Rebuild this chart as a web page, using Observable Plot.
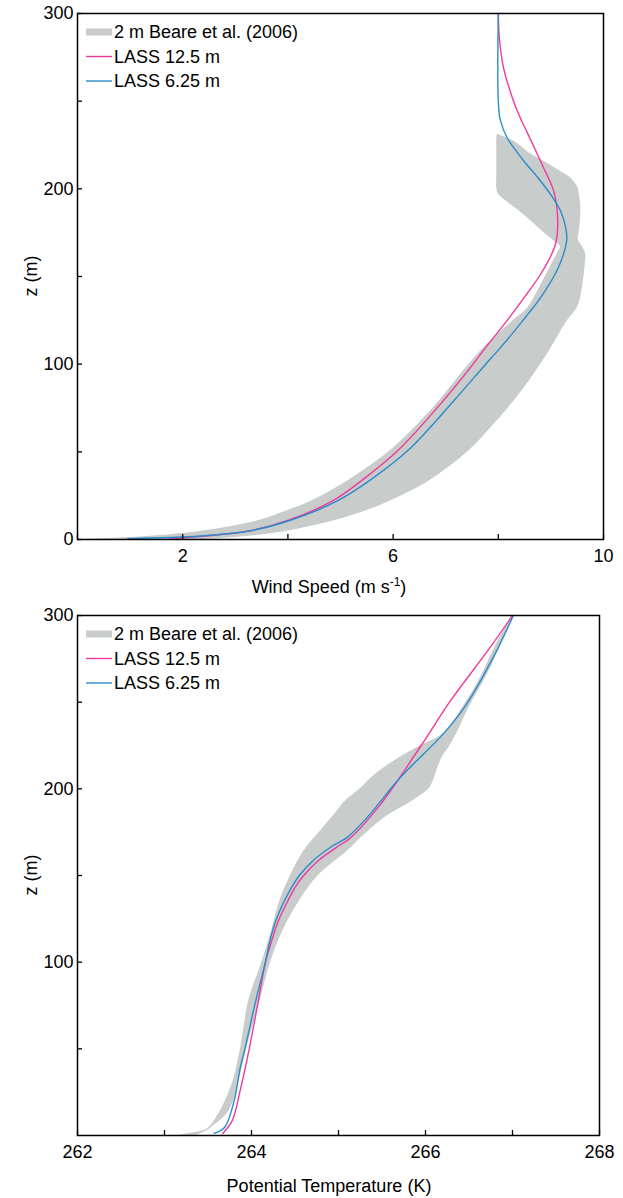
<!DOCTYPE html>
<html><head><meta charset="utf-8">
<script src="https://cdn.jsdelivr.net/npm/d3@7"></script>
<script src="https://cdn.jsdelivr.net/npm/@observablehq/plot@0.6"></script>
<style>
html,body{margin:0;padding:0;background:#fff;}
svg{display:block;}
</style></head><body><div id="chart"></div>
<script>
// ---------- Legend ----------
const legendLabels = ["2 m Beare et al. (2006)", "LASS 12.5 m", "LASS 6.25 m"];

// ---------- Panel 1: wind speed ----------
const windBandZ  = [0,1.1,3.4,6.3,10.8,16.5,22,33.7,50.8,65,79,93,108,125,132,140,148,156,163,167,171,176,182,188,193,197,201,206,210,216,220,225,228,231];
const windBandLo = [0,1.0,2.0,2.7,3.45,4.0,4.45,5.15,5.95,6.45,6.88,7.25,7.68,8.29,8.56,8.72,8.86,9.0,9.12,9.18,9.03,8.83,8.61,8.37,8.15,8.0,7.97,7.97,7.97,7.97,7.97,7.97,7.97,7.98];
const windBandHi = [2.4,3.0,3.7,4.25,4.9,5.5,5.95,6.7,7.45,7.9,8.3,8.65,8.98,9.32,9.5,9.58,9.62,9.65,9.66,9.6,9.52,9.54,9.56,9.57,9.56,9.54,9.51,9.38,9.18,8.85,8.61,8.4,8.25,7.99];
const windPinkZ = [0.5,2,5,11,22,34,51,79,100,108,125,138,152,167.7,182,199,212,231.5,239,250,269,286,300];
const windPinkU = [1.77,2.43,3.29,4.01,4.85,5.42,6.1,6.95,7.52,7.72,8.17,8.49,8.82,9.08,9.13,9.05,8.86,8.56,8.44,8.29,8.10,8.02,8.00];
const windBlueZ = [0.5,2,5,11,22,34,51,79,100,108,125,140,155,170.5,178,187.6,197,206.5,216,223.6,229,239,250,300];
const windBlueU = [0.95,2.34,3.29,4.05,4.94,5.57,6.29,7.15,7.76,8.0,8.47,8.85,9.14,9.30,9.28,9.18,8.99,8.75,8.48,8.29,8.17,8.04,8.00,8.00];
const windXTicks = [0,2,4,6,8,10];
const windXLabels = [2,6,10];
const windYTicks = [0,50,100,150,200,250,300];
const windYLabels = [0,100,200,300];

// ---------- Panel 2: potential temperature ----------
const tempBandZ  = [0,3,5,14,30,49,78,100,118,136,150,164,175,185,193,200,206,212,218,224,232,248,265,282,300];
const tempBandLo = [263.14,263.46,263.52,263.64,263.78,263.87,263.97,264.12,264.23,264.33,264.45,264.60,264.78,264.95,265.08,265.25,265.37,265.52,265.70,265.91,266.21,266.44,266.64,266.80,267.0];
const tempBandHi = [263.37,263.50,263.55,263.74,263.85,263.94,264.10,264.22,264.36,264.56,264.77,265.10,265.33,265.58,265.85,266.04,266.10,266.14,266.19,266.27,266.36,266.51,266.70,266.86,267.02];
const tempPinkZ = [1.2,8.7,26,49,78,100,112,124,135.6,143,150,158.7,167,171,191.5,225,251,280,300];
const tempPinkT = [263.67,263.78,263.87,263.97,264.08,264.16,264.23,264.31,264.42,264.50,264.60,264.77,265.00,265.12,265.49,265.95,266.29,266.72,267.0];
const tempBlueZ = [1.2,4.6,20,39,49,78,100,112,124,135.6,143,150,158.7,167,172,183.5,206.5,232,248,276,300];
const tempBlueT = [263.57,263.69,263.80,263.87,263.92,264.05,264.16,264.21,264.28,264.38,264.46,264.55,264.71,264.93,265.10,265.33,265.71,266.21,266.46,266.78,267.01];
const tempXTicks = [262,263,264,265,266,267,268];
const tempXLabels = [262,264,266,268];
const tempYTicks = [50,100,150,200,250,300];
const tempYLabels = [100,200,300];

const FONT = "'Liberation Sans', Arial, Helvetica, sans-serif";
const FS = 18;
const COLORS = {band: "#c8cccb", pink: "#f0399b", blue: "#2b8bcb"};

function zip(zs, a, b) { return zs.map((z, i) => b ? {z, lo: a[i], hi: b[i]} : {z, v: a[i]}); }

function panel(o) {
  const band = zip(o.bandZ, o.bandLo, o.bandHi);
  const pink = zip(o.pinkZ, o.pinkV);
  const blue = zip(o.blueZ, o.blueV);
  const svg = Plot.plot({
    width: 623, height: o.height,
    marginTop: o.mt, marginBottom: o.mb, marginLeft: 77, marginRight: o.mr,
    style: {fontFamily: FONT, fontSize: FS + "px", color: "#000", background: "#fff"},
    x: {domain: o.xDomain},
    y: {domain: [0, 300]},
    marks: [
      Plot.areaX(band, {y: "z", x1: "lo", x2: "hi", fill: COLORS.band, curve: "catmull-rom"}),
      Plot.line(pink, {x: "v", y: "z", stroke: COLORS.pink, strokeWidth: 1.4, curve: "catmull-rom"}),
      Plot.line(blue, {x: "v", y: "z", stroke: COLORS.blue, strokeWidth: 1.4, curve: "catmull-rom"}),
      Plot.frame({stroke: "#000", strokeWidth: 1.5}),
      Plot.axisX({ticks: o.xTicks, tickFormat: d => o.xLabels.includes(d) ? String(d) : "", tickSize: -5, tickPadding: 15, label: null, fontSize: FS, strokeWidth: 1.3}),
      Plot.axisY({ticks: o.yTicks, tickFormat: d => o.yLabels.includes(d) ? String(d) : "", tickSize: -5, tickPadding: 9, label: null, fontSize: FS, strokeWidth: 1.3})
    ]
  });
  const s = d3.select(svg);
  // y-axis label
  s.append("text").attr("transform", `translate(31,${o.mt + (o.height - o.mt - o.mb) / 2}) rotate(-90)`)
    .attr("text-anchor", "middle").attr("dominant-baseline", "central")
    .attr("font-family", FONT).attr("font-size", FS).text("z (m)");
  // x-axis label
  const xl = s.append("text").attr("x", 329).attr("y", o.xLabelY).attr("text-anchor", "middle")
    .attr("font-family", FONT).attr("font-size", FS);
  o.xLabel(xl);
  // legend
  const lg = s.append("g").attr("font-family", FONT).attr("font-size", FS).attr("text-anchor", "start");
  const rowY = [19, 43.5, 68].map(d => d + o.mt);
  lg.append("rect").attr("x", 86).attr("y", rowY[0] - 3.5).attr("width", 26).attr("height", 7).attr("fill", COLORS.band);
  lg.append("line").attr("x1", 86).attr("x2", 112).attr("y1", rowY[1]).attr("y2", rowY[1]).attr("stroke", COLORS.pink).attr("stroke-width", 1.4);
  lg.append("line").attr("x1", 86).attr("x2", 112).attr("y1", rowY[2]).attr("y2", rowY[2]).attr("stroke", COLORS.blue).attr("stroke-width", 1.4);
  legendLabels.forEach((t, i) => {
    lg.append("text").attr("x", 114).attr("y", rowY[i]).attr("dominant-baseline", "central").attr("text-anchor", "start").text(t);
  });
  return svg;
}

const root = document.getElementById("chart");
root.appendChild(panel({
  height: 600, mt: 13, mb: 61, mr: 20, xDomain: [0, 10],
  bandZ: windBandZ, bandLo: windBandLo, bandHi: windBandHi,
  pinkZ: windPinkZ, pinkV: windPinkU, blueZ: windBlueZ, blueV: windBlueU,
  xTicks: windXTicks, xLabels: windXLabels, yTicks: windYTicks, yLabels: windYLabels,
  xLabelY: 593,
  xLabel: t => { t.append("tspan").text("Wind Speed (m s"); t.append("tspan").attr("dy", -7).attr("font-size", 12).text("-1"); t.append("tspan").attr("dy", 7).text(")"); }
}));
root.appendChild(panel({
  height: 598, mt: 15, mb: 63, mr: 24, xDomain: [262, 268],
  bandZ: tempBandZ, bandLo: tempBandLo, bandHi: tempBandHi,
  pinkZ: tempPinkZ, pinkV: tempPinkT, blueZ: tempBlueZ, blueV: tempBlueT,
  xTicks: tempXTicks, xLabels: tempXLabels, yTicks: tempYTicks, yLabels: tempYLabels,
  xLabelY: 592,
  xLabel: t => { t.text("Potential Temperature (K)"); }
}));
</script></body></html>
